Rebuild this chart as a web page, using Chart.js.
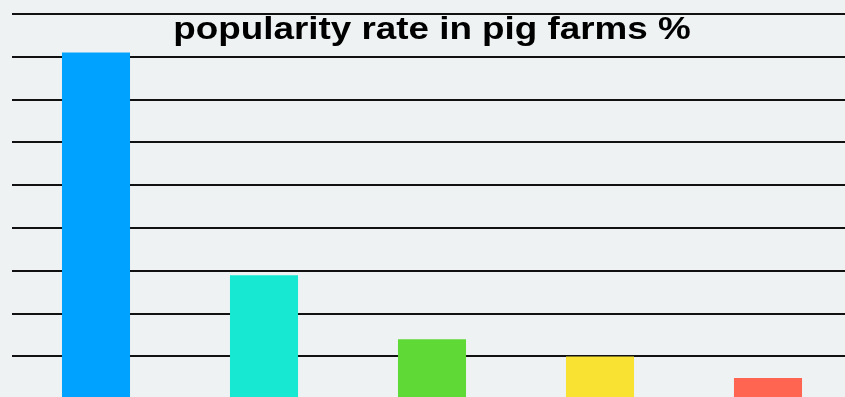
<!DOCTYPE html>
<html>
<head>
<meta charset="utf-8">
<script src="https://cdn.jsdelivr.net/npm/chart.js@4"></script>
<style>
  html, body { margin: 0; padding: 0; background: #eef2f3; overflow: hidden; }
  #wrap { position: relative; width: 845px; height: 397px; overflow: hidden; }
  #myChart { position: absolute; left: 0; top: 0; }
</style>
</head>
<body>
<div id="wrap">
  <canvas id="myChart" width="860" height="400"></canvas>
</div>
<script>
//data
const labels = ["A", "B", "C", "D", "E"];
const values = [81, 29, 14, 10, 5];
const colors = ["#00a2ff", "#17e8d1", "#5fd936", "#f9e232", "#ff6550"];
const titleText = "popularity rate in pig farms %";

//title drawn inside the plot, over the grid (wide face, so stretch it a bit)
const titleInside = {
    id: "titleInside",
    afterDatasetsDraw(chart) {
        const ctx = chart.ctx;
        const area = chart.chartArea;
        ctx.save();
        ctx.translate((area.left + area.right) / 2, 39);
        ctx.scale(1.15, 1);
        ctx.font = "bold 32px 'Liberation Sans', Arial, sans-serif";
        ctx.fillStyle = "#000";
        ctx.textAlign = "center";
        ctx.textBaseline = "alphabetic";
        ctx.fillText(titleText, 0, 0);
        ctx.restore();
    }
};

const config = {
    type: "bar",
    data: {
        labels,
        datasets: [{
            data: values,
            backgroundColor: colors,
            barPercentage: 0.405,
            categoryPercentage: 1
        }]
    },
    options: {
        responsive: false,
        animation: false,
        layout: { padding: { left: 12, right: 8, top: 14, bottom: 0.7 } },
        plugins: { legend: { display: false }, tooltip: { enabled: false } },
        scales: {
            x: { display: false },
            y: {
                min: 0,
                max: 90,
                ticks: { display: false, stepSize: 10 },
                grid: { color: "#111", lineWidth: 2, drawTicks: false },
                border: { display: false }
            }
        }
    },
    plugins: [titleInside]
};

new Chart(document.getElementById("myChart"), config);
</script>
</body>
</html>
